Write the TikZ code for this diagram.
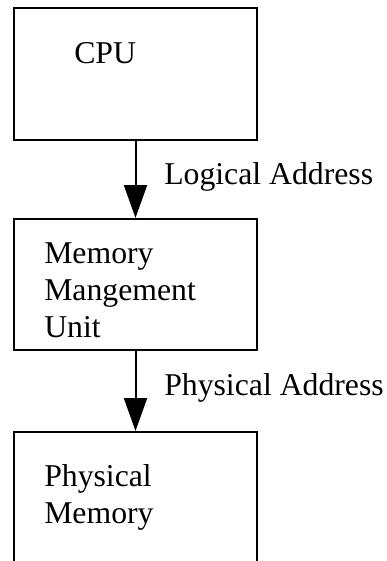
\documentclass[tikz,border=0pt]{standalone}
\usepackage{fontspec}
\setmainfont{Liberation Serif}
\usetikzlibrary{arrows.meta,positioning}

\begin{document}
\begin{tikzpicture}[x = 0.75pt, y = -0.75pt, font = \fontsize{23.8}{27.75}\selectfont]
\clip (0,0) rectangle (386,561);
\node[draw, line width = 1.5pt, shape = rectangle, minimum width = 182.25pt, minimum height = 99pt] (cpu) at (135.5,74) {};
\node[draw, line width = 1.5pt, shape = rectangle, minimum width = 182.25pt, minimum height = 98.25pt] (mmu) at (135.5,284.5) {};
\node[draw, line width = 1.5pt, shape = rectangle, minimum width = 182.25pt, minimum height = 150pt] (pm) at (135.5,532) {};
\node[anchor = base west, inner sep = 0pt] (cputext) at (74,63) {CPU};
\node[anchor = north west, inner sep = 0pt, align = left] (mmutext) at (44,242) {Memory\\Mangement\\Unit};
\node[anchor = north west, inner sep = 0pt, align = left] (pmtext) at (44,464) {Physical\\Memory};
\draw[line width = 1.5pt, -{Triangle[width = 17.25pt, length = 24.75pt]}] (cpu) -- (mmu)
  node [midway, right, xshift = 17.5pt, yshift = 2.25pt] {Logical Address};
\draw[line width = 1.5pt, -{Triangle[width = 17.25pt, length = 24.75pt]}] (mmu) -- (pm)
  node [midway, right, xshift = 17.5pt, yshift = 2.25pt] {Physical Address};
\end{tikzpicture}
\end{document}
